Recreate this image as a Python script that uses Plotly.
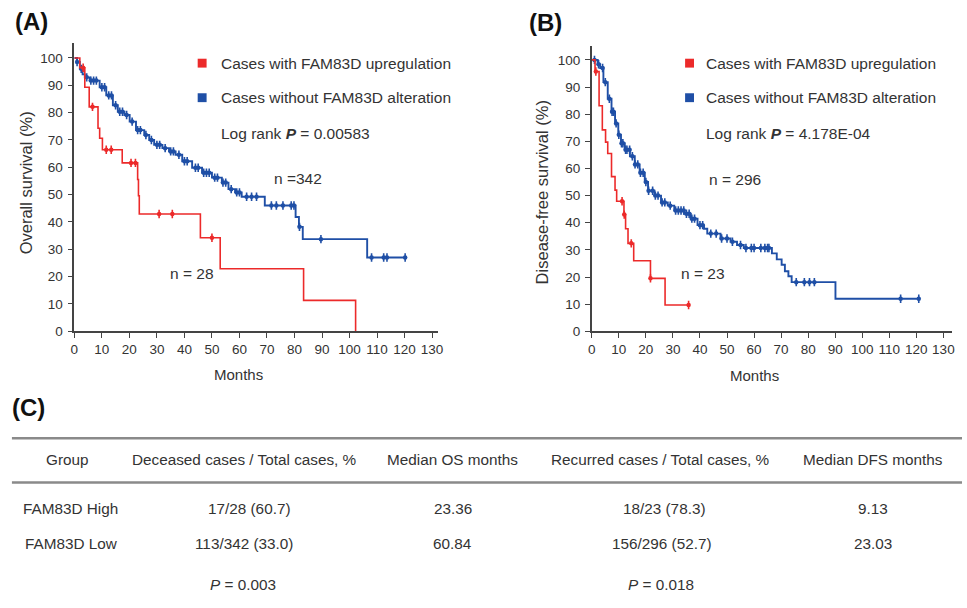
import plotly.graph_objects as go

# ---------------- data ----------------
# Panel A: overall survival, FAM83D upregulation (n = 28)
os_high_t = [0, 2.0, 3.8, 5.4, 8.6, 9.2, 10.2, 17.4, 23.0, 23.3, 23.6, 45.8, 53.0, 83.3, 102.2]
os_high_s = [100, 96.4, 89.3, 82.1, 74.3, 70.6, 66.4, 61.6, 55.5, 49.6, 42.9, 34.2, 22.9, 11.3, 0]
os_high_cens = [3.2, 6.6, 11.6, 13.4, 20.6, 22.2, 30.8, 35.6, 50.0]

# Panel A: overall survival, without FAM83D alteration (n = 342)
os_low_t = [0, 1.0, 2.0, 3.0, 3.8, 5.6, 9.2, 11.6, 14.0, 15.8, 18.2, 20.1, 22.4, 25.4, 27.2, 29.0,
            32.0, 34.4, 36.8, 39.2, 42.8, 46.4, 50.0, 53.6, 56.0, 58.4, 60.8, 69.2, 80.4, 81.6,
            83.0, 106.4, 120.2]
os_low_s = [100, 98.5, 96.0, 94.0, 92.9, 91.7, 89.3, 86.3, 82.7, 80.3, 79.1, 76.7, 73.6, 71.8, 70.0, 68.2,
            67.0, 65.8, 64.6, 62.2, 59.8, 58.0, 56.2, 54.4, 52.0, 50.8, 49.2, 46.0, 41.8, 38.2,
            33.7, 27.0, 27.0]
os_low_cens = [1.0, 2.5, 4.5, 6.0, 7.0, 8.0, 10.0, 11.0, 12.5, 13.5, 15.0, 16.5, 17.5, 19.0, 21.0,
               23.0, 24.0, 26.0, 28.0, 30.0, 31.0, 33.0, 35.0, 36.0, 38.0, 40.0, 41.0, 44.0, 45.0,
               47.0, 48.0, 49.0, 51.0, 52.0, 54.0, 55.0, 57.0, 59.0, 60.0, 62.6, 64.4, 66.2, 71.6,
               73.4, 75.8, 78.8, 79.8, 81.8, 89.6, 108.0, 112.4, 113.6, 120.2]

# Panel B: disease-free survival, FAM83D upregulation (n = 23)
dfs_high_t = [0, 1.2, 2.7, 3.9, 5.1, 5.9, 7.3, 8.6, 9.2, 11.9, 12.5, 13.4, 15.5, 21.7, 27.1, 35.8]
dfs_high_s = [100, 95.7, 83.1, 74.2, 69.7, 65.5, 57.0, 52.0, 47.9, 43.0, 37.8, 32.4, 26.0, 19.5, 9.7, 9.7]
dfs_high_cens = [1.5, 11.2, 12.0, 14.6, 21.7, 35.8]

# Panel B: disease-free survival, without FAM83D alteration (n = 296)
dfs_low_t = [0, 2.2, 3.1, 4.3, 5.9, 7.3, 8.6, 9.8, 10.8, 12.2, 14.1, 15.9, 17.7, 19.6, 20.8, 23.2,
             25.6, 28.1, 30.5, 34.2, 36.6, 39.1, 41.5, 42.7, 47.6, 51.3, 53.7, 56.2, 66.6, 68.4,
             70.2, 71.4, 72.7, 73.9, 90.1, 120.9]
dfs_low_s = [100, 98.4, 97.0, 91.8, 85.7, 80.9, 76.6, 72.4, 69.3, 66.9, 64.5, 61.5, 58.4, 55.0, 51.8, 50.0,
             47.5, 46.3, 44.5, 43.3, 41.5, 39.1, 37.8, 36.0, 34.2, 33.0, 31.8, 30.7, 28.7, 26.5,
             24.5, 22.1, 20.3, 18.1, 12.0, 12.0]
dfs_low_cens = [1.0, 2.5, 4.0, 5.0, 6.5, 7.5, 8.0, 9.0, 10.0, 11.0, 11.5, 12.5, 13.0, 14.0, 15.0,
                16.0, 17.0, 18.0, 19.0, 20.0, 21.0, 22.5, 23.5, 24.5, 26.0, 27.0, 29.0, 31.0, 32.0,
                33.0, 34.0, 35.0, 36.0, 37.0, 38.0, 40.0, 41.0, 44.0, 46.0, 48.0, 50.0, 52.0, 55.0,
                57.0, 59.0, 60.0, 62.5, 64.0, 65.0, 65.5, 75.6, 78.6, 80.5, 82.3, 114.2, 120.9]

x_ticks = [0, 10, 20, 30, 40, 50, 60, 70, 80, 90, 100, 110, 120, 130]
y_ticks = [0, 10, 20, 30, 40, 50, 60, 70, 80, 90, 100]

legend_labels = ["Cases with FAM83D upregulation", "Cases without FAM83D alteration"]
logrank_a = "0.00583"
logrank_b = "4.178E-04"
n_labels_a = ["n = 28", "n =342"]
n_labels_b = ["n = 23", "n = 296"]

# Panel C: table
table_header = ["Group", "Deceased cases / Total cases, %", "Median OS months",
                "Recurred cases / Total cases, %", "Median DFS months"]
row_high = ["FAM83D High", "17/28 (60.7)", "23.36", "18/23 (78.3)", "9.13"]
row_low = ["FAM83D Low", "113/342 (33.0)", "60.84", "156/296 (52.7)", "23.03"]
p_os = "0.003"
p_dfs = "0.018"

RED = "#ec2a2a"
BLUE = "#1f4fa6"
W, H = 967, 608
FONT = "Liberation Sans, Arial, sans-serif"
TXT = "#333333"


def px(x, y):
    return x / W, 1 - y / H


def step_value(times, surv, t):
    v = surv[0]
    for ti, si in zip(times, surv):
        if ti <= t:
            v = si
    return v


fig = go.Figure()


def add_curve(times, surv, cens, color, xa, ya, lw):
    fig.add_trace(go.Scatter(x=times, y=surv, mode="lines", line=dict(color=color, width=lw, shape="hv"),
                             xaxis=xa, yaxis=ya, showlegend=False, hoverinfo="skip"))
    cy = [step_value(times, surv, t) for t in cens]
    fig.add_trace(go.Scatter(x=cens, y=cy, mode="markers",
                             marker=dict(symbol="circle", size=4.5, color=color),
                             xaxis=xa, yaxis=ya, showlegend=False, hoverinfo="skip"))
    fig.add_trace(go.Scatter(x=cens, y=cy, mode="markers",
                             marker=dict(symbol="line-ns", size=6, line=dict(color=color, width=1.6)),
                             xaxis=xa, yaxis=ya, showlegend=False, hoverinfo="skip"))


add_curve(os_low_t, os_low_s, os_low_cens, BLUE, "x", "y", 1.9)
add_curve(os_high_t, os_high_s, os_high_cens, RED, "x", "y", 1.6)
add_curve(dfs_low_t, dfs_low_s, dfs_low_cens, BLUE, "x2", "y2", 1.9)
add_curve(dfs_high_t, dfs_high_s, dfs_high_cens, RED, "x2", "y2", 1.6)

axis_common = dict(showgrid=False, zeroline=False, showline=True, linecolor="#444", linewidth=1.5,
                   ticks="outside", ticklen=5, tickcolor="#444", tickwidth=1.2,
                   tickfont=dict(family=FONT, size=13.5, color=TXT))

# Panel A axes
ax0, ax1 = 71.0, 438.0
ay0, ay1 = 335.7, 44.0
fig.update_layout(
    xaxis=dict(domain=[ax0 / W, ax1 / W], range=[0, (ax1 - ax0) / 2.778], tickvals=x_ticks,
               anchor="y", **axis_common),
    yaxis=dict(domain=[1 - ay0 / H, 1 - ay1 / H], range=[0, (ay0 - ay1) / 2.77], tickvals=y_ticks,
               anchor="x", ticklabelstandoff=2, **axis_common),
)
# Panel B axes
bx0, bx1 = 593.3, 956.7
by0, by1 = 335.7, 47.0
fig.update_layout(
    xaxis2=dict(domain=[bx0 / W, bx1 / W], range=[0, (bx1 - bx0) / 2.73], tickvals=x_ticks,
                anchor="y2", **axis_common),
    yaxis2=dict(domain=[1 - by0 / H, 1 - by1 / H], range=[0, (by0 - by1) / 2.75], tickvals=y_ticks,
                anchor="x2", ticklabelstandoff=2, **axis_common),
)

ann = []
shapes = []


def text(x, y, s, size=15.5, anchor="left", bold=False, angle=0, color=TXT):
    xp, yp = px(x, y)
    ann.append(dict(x=xp, y=yp, xref="paper", yref="paper", text=f"<b>{s}</b>" if bold else s,
                    showarrow=False, xanchor=anchor, yanchor="middle", textangle=angle,
                    font=dict(family=FONT, size=size, color=color)))


def square(cx, cy, color, half=4.5):
    x0, y0 = px(cx - half, cy + half)
    x1, y1 = px(cx + half, cy - half)
    shapes.append(dict(type="rect", xref="paper", yref="paper", x0=x0, y0=y0, x1=x1, y1=y1,
                       fillcolor=color, line=dict(width=0)))


def hline(y, x0, x1, color="#8a8a8a", width=2.5):
    a, b = px(x0, y)
    c, _ = px(x1, y)
    shapes.append(dict(type="line", xref="paper", yref="paper", x0=a, y0=b, x1=c, y1=b,
                       line=dict(color=color, width=width)))


# panel labels
text(9, 22, "(A)", size=24, bold=True, color="#111")
text(528, 23, "(B)", size=24, bold=True, color="#111")
text(6, 413, "(C)", size=24, bold=True, color="#111")

# panel A texts
square(200, 64, RED)
square(200, 99, BLUE)
text(217, 64, legend_labels[0])
text(217, 99, legend_labels[1])
text(217, 135, f"Log rank <b><i>P</i></b> = {logrank_a}")
text(271, 181, n_labels_a[1])
text(166, 277, n_labels_a[0])
text(22, 185, "Overall survival (%)", size=16.5, anchor="center", angle=-90)
text(237, 379, "Months", size=15, anchor="center")

# panel B texts
square(692, 64, RED)
square(692, 99, BLUE)
text(707, 64, legend_labels[0])
text(707, 99, legend_labels[1])
text(707, 135, f"Log rank <b><i>P</i></b> = {logrank_b}")
text(710, 182, n_labels_b[1])
text(681, 277, n_labels_b[0])
text(543, 195, "Disease-free survival (%)", size=16.5, anchor="center", angle=-90)
text(758, 380, "Months", size=15, anchor="center")

# table
TS = 15.3
hline(444, 8, 967)
hline(489, 8, 967)
col_x = [64, 243, 453, 663, 877]
for cx, h in zip(col_x, table_header):
    text(cx, 466, h, size=TS, anchor="center")
row_x = [248, 453, 667, 877]
text(117, 515, row_high[0], size=TS, anchor="right")
for cx, v in zip(row_x, row_high[1:]):
    text(cx, 515, v, size=TS, anchor="center")
row_x2 = [242, 453, 664, 877]
text(117, 551, row_low[0], size=TS, anchor="right")
for cx, v in zip(row_x2, row_low[1:]):
    text(cx, 551, v, size=TS, anchor="center")
text(241, 592, f"<i>P</i> = {p_os}", size=TS, anchor="center")
text(663, 592, f"<i>P</i> = {p_dfs}", size=TS, anchor="center")

fig.update_layout(width=W, height=H, margin=dict(l=0, r=0, t=0, b=0),
                  paper_bgcolor="white", plot_bgcolor="white",
                  annotations=ann, shapes=shapes, showlegend=False)

fig.write_html("out.html")
